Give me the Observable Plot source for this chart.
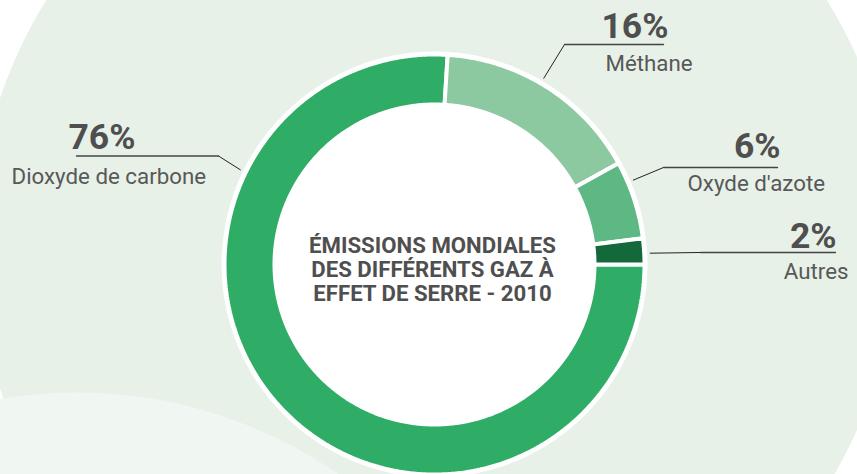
<!DOCTYPE html>
<html>
<head>
<meta charset="utf-8">
<script src="https://cdn.jsdelivr.net/npm/d3@7"></script>
<script src="https://cdn.jsdelivr.net/npm/@observablehq/plot@0.6"></script>
<style>
  html, body { margin: 0; padding: 0; background: #fff; overflow: hidden; }
  #chart { width: 857px; height: 474px; }
</style>
</head>
<body>
<div id="chart"></div>
<script>
// ---- data ----
const categories = ["Dioxyde de carbone", "Méthane", "Oxyde d'azote", "Autres"];
const shares = [76, 16, 6, 2];
const pctLabels = ["76%", "16%", "6%", "2%"];
const title = "ÉMISSIONS MONDIALES\nDES DIFFÉRENTS GAZ À\nEFFET DE SERRE - 2010";

// ---- style / layout ----
const W = 857, H = 474;
const colors = ["#2fac66", "#8dc9a0", "#5db883", "#14693a"];
const cx = 434, cy = 264, rOuter = 210, rInner = 160;
const textDark = "#4f4f4f", textName = "#585858";
// label layout: leader start angle (deg, clockwise from top), elbow & underline end, text anchors
const labelLayout = [
  {angle: 296, elbow: [218, 155.5], end: [76, 155.5],
   pct: {x: 68, y: 148, anchor: "start"}, name: {x: 11, y: 183, anchor: "start"}},
  {angle: 30.4, elbow: [564, 44], end: [663, 44],
   pct: {x: 601, y: 37, anchor: "start"}, name: {x: 605, y: 70, anchor: "start"}},
  {angle: 67, elbow: [663, 167], end: [777, 167],
   pct: {x: 780, y: 157, anchor: "end"}, name: {x: 687, y: 190, anchor: "start"}},
  {angle: 87, elbow: [700, 252], end: [835, 252],
   pct: {x: 836, y: 247, anchor: "end"}, name: {x: 848, y: 278, anchor: "end"}}
];

// ---- geometry from data ----
const pie = d3.pie().sort(null).startAngle(Math.PI / 2).endAngle(Math.PI / 2 + 2 * Math.PI);
const arcs = pie(shares);
const pt = (a, r) => ({x: cx + r * Math.sin(a), y: cy - r * Math.cos(a)});
function slicePolygon(a0, a1) {
  const n = Math.max(4, Math.ceil((a1 - a0) / (Math.PI / 360)));
  const pts = [];
  for (let i = 0; i <= n; i++) pts.push(pt(a0 + (a1 - a0) * i / n, rOuter));
  for (let i = n; i >= 0; i--) pts.push(pt(a0 + (a1 - a0) * i / n, rInner));
  pts.push(pts[0]);
  return pts;
}

const sliceMarks = arcs.map((a, i) =>
  Plot.line(slicePolygon(a.startAngle, a.endAngle), {
    x: "x", y: "y", fill: colors[i], stroke: "white", strokeWidth: 4, strokeLinejoin: "miter"
  })
);

const leaderMarks = labelLayout.map((l, i) => {
  const s = pt(l.angle * Math.PI / 180, 216);
  const pts = [s, {x: l.elbow[0], y: l.elbow[1]}, {x: l.end[0], y: l.end[1]}];
  return [
    Plot.line(pts.slice(0, 2), {x: "x", y: "y", stroke: "#222", strokeWidth: 1}),
    Plot.line(pts.slice(1), {x: "x", y: "y", stroke: "#444", strokeWidth: 1.4})
  ];
}).flat();

const pctRows = labelLayout.map((l, i) => ({x: l.pct.x, y: l.pct.y, anchor: l.pct.anchor, t: pctLabels[i]}));
const nameRows = labelLayout.map((l, i) => ({x: l.name.x, y: l.name.y, anchor: l.name.anchor, t: categories[i]}));

const textMarks = [];
for (const anchor of ["start", "end"]) {
  textMarks.push(Plot.text(pctRows.filter(d => d.anchor === anchor), {
    x: "x", y: "y", text: "t", textAnchor: anchor, lineAnchor: "bottom",
    fontSize: 35.5, fontWeight: "bold", fill: textDark
  }));
  textMarks.push(Plot.text(nameRows.filter(d => d.anchor === anchor), {
    x: "x", y: "y", text: "t", textAnchor: anchor, lineAnchor: "bottom",
    fontSize: 22.3, fill: textName
  }));
}

const chart = Plot.plot({
  width: W, height: H, margin: 0,
  x: {domain: [0, W], range: [0, W], axis: null},
  y: {domain: [0, H], range: [0, H], axis: null},
  style: {background: "transparent", fontFamily: "Roboto, 'Noto Sans', sans-serif", overflow: "hidden"},
  marks: [
    Plot.dot([{x: 436, y: 243}], {x: "x", y: "y", r: 460, fill: "#e7f1e8", stroke: null}),
    Plot.dot([{x: 77, y: 850}], {x: "x", y: "y", r: 458, fill: "#f0f6f1", stroke: null}),
    Plot.dot([{x: cx, y: cy}], {x: "x", y: "y", r: rOuter + 3, fill: "white", stroke: null}),
    ...sliceMarks,
    ...leaderMarks,
    ...textMarks,
    Plot.text([{x: 432, y: 300, t: title}], {
      x: "x", y: "y", text: "t", lineAnchor: "bottom", lineHeight: 1.08,
      fontSize: 22.2, fontWeight: "bold", fill: textDark
    })
  ]
});
document.getElementById("chart").appendChild(chart);
</script>
</body>
</html>
